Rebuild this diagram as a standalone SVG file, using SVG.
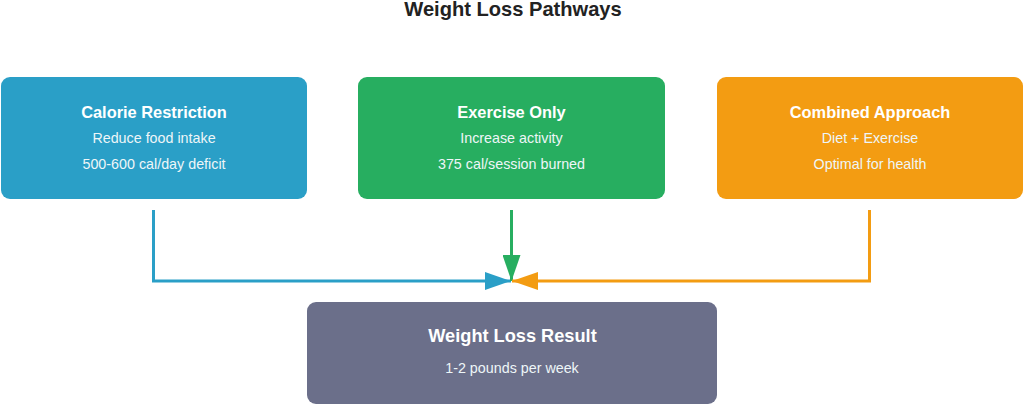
<svg xmlns="http://www.w3.org/2000/svg" width="1024" height="405" viewBox="0 0 1024 405">
<style>
.t{font-family:"Liberation Sans",Arial,sans-serif;text-anchor:middle;fill:#fff}
.h{font-weight:bold;font-size:16.4px}
.s{font-size:14.3px;fill:#eef6f8}
.c{fill:none;stroke-width:3}
</style>
<defs>
<marker id="ab" markerUnits="userSpaceOnUse" markerWidth="26" markerHeight="18" refX="26" refY="9" orient="auto"><path d="M0,0 L26,9 L0,18 Z" fill="#2A9FC7"/></marker>
<marker id="ag" markerUnits="userSpaceOnUse" markerWidth="26" markerHeight="18" refX="26" refY="9" orient="auto"><path d="M0,0 L26,9 L0,18 Z" fill="#27AE60"/></marker>
<marker id="ao" markerUnits="userSpaceOnUse" markerWidth="26" markerHeight="18" refX="26" refY="9" orient="auto"><path d="M0,0 L26,9 L0,18 Z" fill="#F39C12"/></marker>
</defs>
<rect width="1024" height="405" fill="#fff"/>
<text x="513" y="16" style="font-family:'Liberation Sans',Arial,sans-serif;font-weight:bold;font-size:20.1px;text-anchor:middle;fill:#222">Weight Loss Pathways</text>
<g id="connectors">
<path class="c" stroke="#2A9FC7" d="M153.5,210 V281 H511" marker-end="url(#ab)"/>
<path class="c" stroke="#27AE60" d="M511.5,210 V281" marker-end="url(#ag)"/>
<path class="c" stroke="#F39C12" d="M869.5,210 V281 H512" marker-end="url(#ao)"/>
</g>
<g id="calorie">
<rect x="1" y="77" width="306" height="122" rx="9" fill="#2A9FC7"/>
<text class="t h" x="154" y="117.5">Calorie Restriction</text>
<text class="t s" x="154" y="143">Reduce food intake</text>
<text class="t s" x="154" y="168.5">500-600 cal/day deficit</text>
</g>
<g id="exercise">
<rect x="358" y="77" width="307" height="122" rx="9" fill="#27AE60"/>
<text class="t h" x="511.5" y="117.5">Exercise Only</text>
<text class="t s" x="511.5" y="143">Increase activity</text>
<text class="t s" x="511.5" y="168.5">375 cal/session burned</text>
</g>
<g id="combined">
<rect x="717" y="77" width="306" height="122" rx="9" fill="#F39C12"/>
<text class="t h" x="870" y="117.5">Combined Approach</text>
<text class="t s" x="870" y="143">Diet + Exercise</text>
<text class="t s" x="870" y="168.5">Optimal for health</text>
</g>
<g id="result">
<rect x="307" y="302" width="410" height="102" rx="9" fill="#6B6F8A"/>
<text class="t" x="512.5" y="342" style="font-weight:bold;font-size:18.2px">Weight Loss Result</text>
<text class="t s" x="512" y="373">1-2 pounds per week</text>
</g>
</svg>
